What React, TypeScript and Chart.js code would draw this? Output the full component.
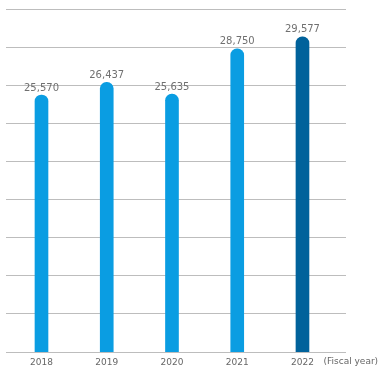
import React, { useEffect, useRef } from "react";
import { Chart, registerables } from "chart.js";

Chart.register(...registerables);

const categories = ["2018", "2019", "2020", "2021", "2022"];
const values = [25570, 26437, 25635, 28750, 29577];
const barColors = ["#0a9de2", "#0a9de2", "#0a9de2", "#0a9de2", "#00629b"];
const unitLabel = "(Fiscal year)";
const yMin = 7850;
const yMax = 31500;
const gridCount = 9;

const FONT = "'DejaVu Sans', Verdana, sans-serif";

const valueLabelPlugin = {
  id: "valueLabels",
  afterDatasetsDraw(chart: any) {
    const ctx = chart.ctx;
    const meta = chart.getDatasetMeta(0);
    ctx.save();
    ctx.font = `10px ${FONT}`;
    ctx.fillStyle = "#707070";
    ctx.textAlign = "center";
    ctx.textBaseline = "alphabetic";
    meta.data.forEach((el: any, i: number) => {
      ctx.fillText(values[i].toLocaleString("en-US"), el.x, el.y - 4.5);
    });
    const xs = chart.scales.x;
    ctx.font = `9px ${FONT}`;
    ctx.fillStyle = "#666666";
    ctx.textAlign = "left";
    ctx.textBaseline = "middle";
    ctx.fillText(unitLabel, xs.getPixelForValue(categories.length - 1) + 21, chart.chartArea.bottom + 10);
    ctx.restore();
  },
};

export default function App() {
  const ref = useRef<HTMLCanvasElement | null>(null);
  useEffect(() => {
    if (!ref.current) return;
    const chart = new Chart(ref.current, {
      type: "bar",
      data: {
        datasets: [
          {
            data: values.map((v, i) => ({ x: i, y: v })),
            backgroundColor: barColors,
            barThickness: 13,
            borderRadius: { topLeft: 6.5, topRight: 6.5, bottomLeft: 0, bottomRight: 0 },
            borderSkipped: false,
          },
        ],
      },
      options: {
        animation: false,
        responsive: false,
        maintainAspectRatio: false,
        layout: { padding: { top: 9, left: 6, right: 35, bottom: 0 } },
        plugins: { legend: { display: false }, tooltip: { enabled: false } },
        scales: {
          x: {
            type: "linear",
            offset: false,
            min: -0.544,
            max: 4.667,
            grid: { display: false, drawTicks: false, offset: false },
            border: { display: false },
            afterBuildTicks: (s: any) => {
              s.ticks = categories.map((_, i) => ({ value: i }));
            },
            afterFit: (s: any) => {
              s.height = 23;
            },
            ticks: {
              padding: 5,
              autoSkip: false,
              maxRotation: 0,
              color: "#666666",
              font: { family: FONT, size: 9 },
              callback: (v: any) => categories[Math.round(Number(v))] ?? "",
            },
          },
          y: {
            min: yMin,
            max: yMax,
            grid: { color: "#bdbdbd", lineWidth: 1, drawTicks: false },
            border: { display: false },
            afterBuildTicks: (s: any) => {
              const step = (yMax - yMin) / gridCount;
              s.ticks = Array.from({ length: gridCount + 1 }, (_, i) => ({ value: yMin + i * step }));
            },
            afterFit: (s: any) => {
              s.width = 0;
            },
            ticks: { display: false },
          },
        },
      },
      plugins: [valueLabelPlugin],
    } as any);
    return () => chart.destroy();
  }, []);
  return (
    <div style={{ position: "fixed", left: 0, top: 0, width: 381, height: 375, background: "#fff" }}>
      <canvas ref={ref} width={381} height={375} style={{ display: "block", width: 381, height: 375 }} />
    </div>
  );
}
